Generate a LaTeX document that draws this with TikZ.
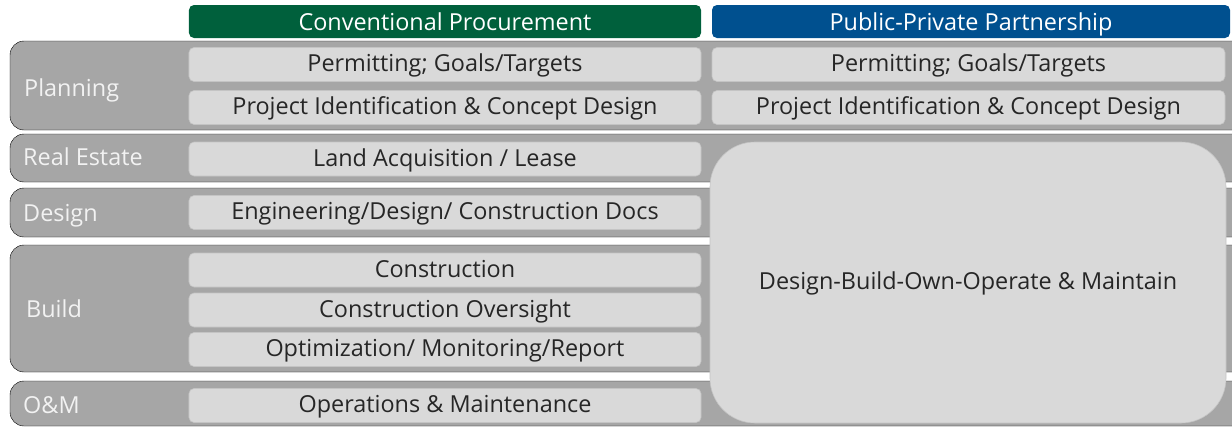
\documentclass[tikz,border=0pt]{standalone}
\usepackage{fontspec}
\setmainfont{Open Sans}
\definecolor{bandgray}{HTML}{A6A6A6}
\definecolor{cellgray}{HTML}{D9D9D9}
\definecolor{celledge}{HTML}{C4C4C4}
\definecolor{celltext}{HTML}{262626}
\definecolor{convgreen}{HTML}{00603C}
\definecolor{pppblue}{HTML}{00508F}
\tikzset{
    label font/.style={font=\fontsize{23.5}{27}\selectfont, text height=18bp, text depth=3.2bp},
    band/.style={fill=bandgray, rounded corners=14bp},
    bandlabel/.style={label font, anchor=west, inner sep=0pt, text=white!95!black},
    cell/.style={label font, draw=celledge, line width=0.6bp, fill=cellgray, rounded corners=5bp,
        inner sep=0pt, text=celltext, minimum height=34bp},
    leftcell/.style={cell, minimum width=512bp},
    rightcell/.style={cell, minimum width=513bp},
    head/.style={label font, text height=21bp, text depth=2.2bp, rounded corners=5bp, inner sep=0pt,
        text=white, minimum height=33bp}
}
\begin{document}
        \begin{tikzpicture}[x=1bp, y=-1bp]
            \useasboundingbox (0, 0) rectangle (1232, 427);
            % bands
            \draw[band] (10, 41) rectangle (1246, 130);
            \draw[band] (10, 134) rectangle (1246, 182);
            \draw[band] (10, 188) rectangle (1246, 237);
            \draw[band] (10, 245) rectangle (1246, 372);
            \draw[band] (10, 381) rectangle (1246, 426);
            \node[bandlabel] (planning) at (24, 89) {Planning};
            \node[bandlabel] (realestate) at (23, 158.5) {Real Estate};
            \node[bandlabel] (design) at (23, 214) {Design};
            \node[bandlabel] (build) at (26, 310.5) {Build};
            \node[bandlabel] (om) at (23, 406) {O\&M};
            % headers
            \node[head, fill=convgreen, minimum width=512bp] (conv) at (445, 21.5) {Conventional Procurement};
            \node[head, fill=pppblue, minimum width=518bp] (ppp) at (971, 21.5) {Public-Private Partnership};
            % conventional column
            \node[leftcell] (convpermit) at (445, 64.5) {Permitting; Goals/Targets};
            \node[leftcell] (convconcept) at (445, 107.5) {Project Identification \& Concept Design};
            \node[leftcell] (convland) at (445, 159) {Land Acquisition / Lease};
            \node[leftcell] (convdesign) at (445, 212.5) {Engineering/Design/ Construction Docs};
            \node[leftcell] (convbuild) at (445, 270) {Construction};
            \node[leftcell] (convoversight) at (445, 310) {Construction Oversight};
            \node[leftcell] (convreport) at (445, 349.5) {Optimization/ Monitoring/Report};
            \node[leftcell] (convom) at (445, 405.5) {Operations \& Maintenance};
            % partnership column
            \node[rightcell] (ppppermit) at (968.5, 64.5) {Permitting; Goals/Targets};
            \node[rightcell] (pppconcept) at (968.5, 107.5) {Project Identification \& Concept Design};
            \node[cell, minimum width=516bp, minimum height=281bp, rounded corners=45bp] (dbo) at (968, 282.5)
                {Design-Build-Own-Operate \& Maintain};
        \end{tikzpicture}
\end{document}
